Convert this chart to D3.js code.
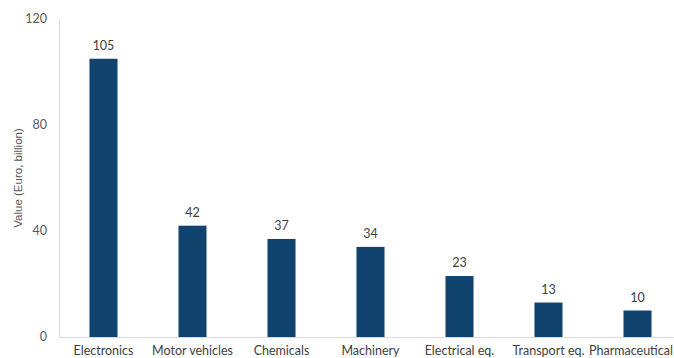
<!DOCTYPE html>
<html><head><meta charset="utf-8">
<script src="https://cdn.jsdelivr.net/npm/d3@7"></script>
<style>body{margin:0;background:#fff;} svg{display:block;}</style>
</head><body>
<svg id="c" width="674" height="358"></svg>
<script>
const categories = ["Electronics","Motor vehicles","Chemicals","Machinery","Electrical eq.","Transport eq.","Pharmaceutical"];
const values = [105, 42, 37, 34, 23, 13, 10];
const yTicks = [0, 40, 80, 120];
const yTitle = "Value (Euro, billion)";

const svg = d3.select("#c");
const font = "Lato, 'Open Sans', sans-serif";
const x = d3.scaleBand().domain(categories).range([59, 682]).paddingInner(0.685).paddingOuter(0.3425);
const y = d3.scaleLinear().domain([0, 120]).range([337, 19]);

// axes lines
svg.append("line").attr("x1", 59).attr("x2", 674).attr("y1", y(0)+0.5).attr("y2", y(0)+0.5)
  .attr("stroke", "#d9d9d9").attr("stroke-width", 1);
svg.append("line").attr("x1", 59.5).attr("x2", 59.5).attr("y1", y(120)).attr("y2", y(0))
  .attr("stroke", "#d9d9d9").attr("stroke-width", 1);

// y tick labels
svg.append("g").selectAll("text").data(yTicks).join("text")
  .attr("x", 47).attr("y", d => y(d)).attr("dy", "0.35em")
  .attr("text-anchor", "end").attr("font-family", font).attr("font-size", 12.5)
  .attr("fill", "#595959").text(d => d);

// y title
svg.append("text").attr("transform", `translate(22,${(y(0)+y(120))/2}) rotate(-90)`)
  .attr("text-anchor", "middle").attr("font-family", "'Liberation Sans', Arial, sans-serif")
  .attr("font-size", 11.5).attr("fill", "#595959").text(yTitle);

// bars
svg.append("g").selectAll("rect").data(values).join("rect")
  .attr("x", (d,i) => x(categories[i])).attr("width", x.bandwidth())
  .attr("y", d => y(d)).attr("height", d => y(0) - y(d))
  .attr("fill", "#11436F");

// value labels
svg.append("g").selectAll("text").data(values).join("text")
  .attr("x", (d,i) => x(categories[i]) + x.bandwidth()/2).attr("y", d => y(d) - 9)
  .attr("text-anchor", "middle").attr("font-family", font).attr("font-size", 12.5)
  .attr("fill", "#404040").text(d => d);

// x labels (clamped to stay inside the picture)
svg.append("g").selectAll("text").data(categories).join("text")
  .attr("x", d => x(d) + x.bandwidth()/2).attr("y", 355)
  .attr("text-anchor", "middle").attr("font-family", font).attr("font-size", 12.5)
  .attr("fill", "#404040").text(d => d)
  .each(function() {
    const bb = this.getBBox();
    const over = bb.x + bb.width - 673;
    if (over > 0) d3.select(this).attr("x", +d3.select(this).attr("x") - over);
  });
</script>
</body></html>
